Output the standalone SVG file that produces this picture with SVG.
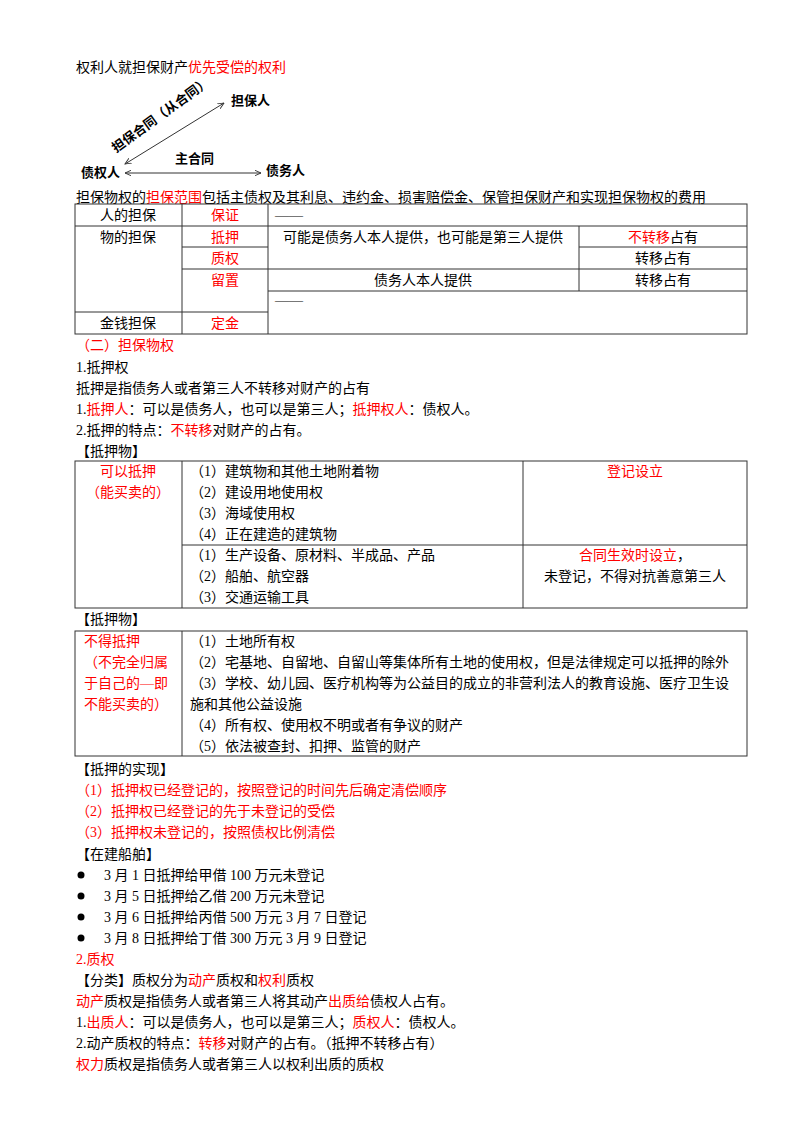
<svg xmlns="http://www.w3.org/2000/svg" width="800" height="1132" viewBox="0 0 800 1132">
<style>
text{font-family:"Liberation Serif","Noto Sans CJK SC",serif;font-size:14px;fill:#000}
.r{fill:#f00}
.c{text-anchor:middle}
.b{font-family:"Noto Sans CJK SC",sans-serif;font-weight:bold;font-size:13px}
.t{fill:none;stroke:#333;stroke-width:1}
.ln{stroke:#333;stroke-width:1;fill:none}
</style>
<defs><marker id="a" viewBox="0 0 10 10" refX="9" refY="5" markerWidth="7" markerHeight="7" orient="auto-start-reverse"><path d="M0,1 L9,5 L0,9" fill="none" stroke="#333" stroke-width="1.3"/></marker></defs>
<rect width="800" height="1132" fill="#fff"/>
<text x="76" y="72">权利人就担保财产<tspan class="r">优先受偿的权利</tspan></text>
<g id="connectors">
<line class="ln" x1="125" y1="164" x2="224" y2="103" marker-start="url(#a)" marker-end="url(#a)"/>
<line class="ln" x1="125" y1="173" x2="261" y2="173" marker-start="url(#a)" marker-end="url(#a)"/>
<text class="b" transform="translate(116,153) rotate(-36)">担保合同（从合同）</text>
<text class="b" x="175" y="163">主合同</text>
</g>
<g id="n1"><text class="b" x="81" y="177">债权人</text></g>
<g id="n2"><text class="b" x="231" y="105">担保人</text></g>
<g id="n3"><text class="b" x="266" y="175">债务人</text></g>
<text x="76" y="202">担保物权的<tspan class="r">担保范围</tspan>包括主债权及其利息、违约金、损害赔偿金、保管担保财产和实现担保物权的费用</text>
<g id="table1">
<rect class="t" x="75" y="204" width="672" height="130"/>
<path class="ln" d="M182 204V334M268 204V334M579 226V291M75 226H747M182 247H268M579 247H747M182 269H747M268 291H747M75 312H268"/>
<text class="c" x="128" y="220">人的担保</text><text class="c r" x="225" y="220">保证</text><text x="275" y="220">——</text>
<text class="c" x="128" y="242">物的担保</text><text class="c r" x="225" y="242">抵押</text><text class="c" x="423" y="242">可能是债务人本人提供，也可能是第三人提供</text><text class="c" x="663" y="242"><tspan class="r">不转移</tspan>占有</text>
<text class="c r" x="225" y="263">质权</text><text class="c" x="663" y="263">转移占有</text>
<text class="c r" x="225" y="285">留置</text><text class="c" x="423" y="285">债务人本人提供</text><text class="c" x="663" y="285">转移占有</text>
<text x="275" y="305">——</text>
<text class="c" x="128" y="328">金钱担保</text><text class="c r" x="225" y="328">定金</text>
</g>
<text class="r" x="76" y="350">（二）担保物权</text>
<text x="76" y="372">1.抵押权</text>
<text x="76" y="393">抵押是指债务人或者第三人不转移对财产的占有</text>
<text x="76" y="414">1.<tspan class="r">抵押人</tspan>：可以是债务人，也可以是第三人；<tspan class="r">抵押权人</tspan>：债权人。</text>
<text x="76" y="435">2.抵押的特点：<tspan class="r">不转移</tspan>对财产的占有。</text>
<text x="76" y="456">【抵押物】</text>
<g id="table2">
<rect class="t" x="75" y="461" width="672" height="147"/>
<path class="ln" d="M182 461V608M523 461V608M182 545H747"/>
<text class="c r" x="128" y="476">可以抵押</text><text class="c r" x="128" y="497">（能买卖的）</text>
<text x="190" y="476">（1）建筑物和其他土地附着物</text>
<text x="190" y="497">（2）建设用地使用权</text>
<text x="190" y="518">（3）海域使用权</text>
<text x="190" y="539">（4）正在建造的建筑物</text>
<text class="c r" x="635" y="476">登记设立</text>
<text x="190" y="560">（1）生产设备、原材料、半成品、产品</text>
<text x="190" y="581">（2）船舶、航空器</text>
<text x="190" y="602">（3）交通运输工具</text>
<text class="c" x="635" y="560"><tspan class="r">合同生效时设立</tspan>，</text>
<text class="c" x="635" y="581">未登记，不得对抗善意第三人</text>
</g>
<text x="76" y="624">【抵押物】</text>
<g id="table3">
<rect class="t" x="75" y="631" width="672" height="125"/>
<path class="ln" d="M182 631V756"/>
<text class="r" x="84" y="646">不得抵押</text>
<text class="r" x="84" y="667">（不完全归属</text>
<text class="r" x="84" y="688">于自己的—即</text>
<text class="r" x="84" y="709">不能买卖的）</text>
<text x="190" y="646">（1）土地所有权</text>
<text x="190" y="667">（2）宅基地、自留地、自留山等集体所有土地的使用权，但是法律规定可以抵押的除外</text>
<text x="190" y="688">（3）学校、幼儿园、医疗机构等为公益目的成立的非营利法人的教育设施、医疗卫生设</text>
<text x="190" y="709">施和其他公益设施</text>
<text x="190" y="730">（4）所有权、使用权不明或者有争议的财产</text>
<text x="190" y="751">（5）依法被查封、扣押、监管的财产</text>
</g>
<text x="76" y="774">【抵押的实现】</text>
<text class="r" x="76" y="795">（1）抵押权已经登记的，按照登记的时间先后确定清偿顺序</text>
<text class="r" x="76" y="816">（2）抵押权已经登记的先于未登记的受偿</text>
<text class="r" x="76" y="837">（3）抵押权未登记的，按照债权比例清偿</text>
<text x="76" y="859">【在建船舶】</text>
<g>
<circle cx="81" cy="875" r="3.5"/><text x="104" y="880">3 月 1 日抵押给甲借 100 万元未登记</text>
<circle cx="81" cy="896" r="3.5"/><text x="104" y="901">3 月 5 日抵押给乙借 200 万元未登记</text>
<circle cx="81" cy="917" r="3.5"/><text x="104" y="922">3 月 6 日抵押给丙借 500 万元 3 月 7 日登记</text>
<circle cx="81" cy="938" r="3.5"/><text x="104" y="943">3 月 8 日抵押给丁借 300 万元 3 月 9 日登记</text>
</g>
<text class="r" x="76" y="964">2.质权</text>
<text x="76" y="985">【分类】质权分为<tspan class="r">动产</tspan>质权和<tspan class="r">权利</tspan>质权</text>
<text x="76" y="1006"><tspan class="r">动产</tspan>质权是指债务人或者第三人将其动产<tspan class="r">出质给</tspan>债权人占有。</text>
<text x="76" y="1027">1.<tspan class="r">出质人</tspan>：可以是债务人，也可以是第三人；<tspan class="r">质权人</tspan>：债权人。</text>
<text x="76" y="1048">2.动产质权的特点：<tspan class="r">转移</tspan>对财产的占有。（抵押不转移占有）</text>
<text x="76" y="1069"><tspan class="r">权力</tspan>质权是指债务人或者第三人以权利出质的质权</text>
</svg>
